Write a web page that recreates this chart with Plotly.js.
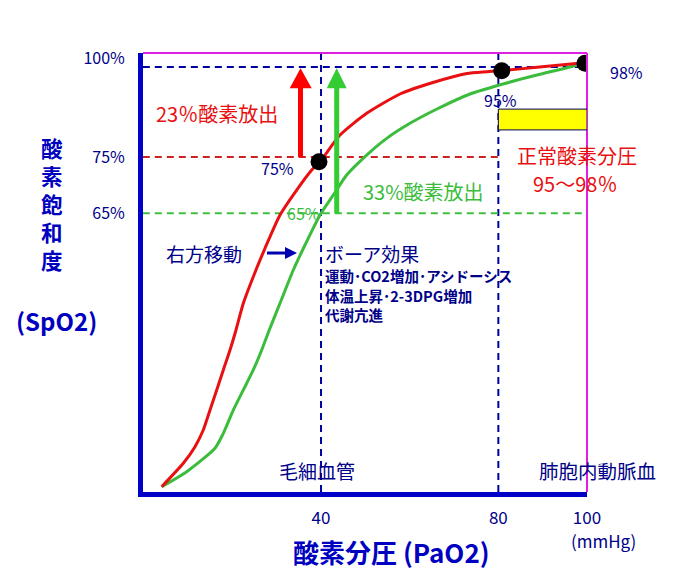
<!DOCTYPE html>
<html>
<head>
<meta charset="utf-8">
<script src="https://cdn.plot.ly/plotly-3.0.1.min.js"></script>
<style>html,body{margin:0;padding:0;background:#fff;}#chart{width:689px;height:583px;}</style>
</head>
<body>
<div id="chart"></div>
<script>
// ---- data (PaO2 mmHg, SpO2 on the drawing's own scale) ----
const pao2Normal = [4.06, 8.93, 11.57, 13.44, 14.96, 16.47, 17.96, 19.47, 20.82, 22.47, 24.72, 27.36, 30.74, 34.51, 37.9, 39.77, 44.28, 50.3, 57.82, 65.26, 72.93, 77.44, 80.83, 88.72, 99.32];
const spo2Normal = [1.25, 6.75, 10.66, 14.59, 19.29, 24.0, 28.71, 33.41, 38.12, 44.4, 50.66, 57.34, 65.18, 71.06, 75.76, 77.72, 84.0, 89.11, 93.65, 96.35, 98.47, 98.89, 99.18, 99.93, 101.01];
const pao2Shift = [4.06, 9.7, 16.08, 17.96, 20.21, 22.47, 24.72, 26.62, 28.33, 30.74, 33.75, 36.39, 39.77, 42.77, 45.79, 50.3, 54.82, 60.07, 66.16, 73.61, 81.05, 88.72, 96.16, 99.32];
const spo2Shift = [1.25, 4.78, 10.28, 13.81, 19.29, 24.0, 28.71, 33.41, 38.12, 44.4, 52.24, 58.12, 65.18, 69.88, 74.59, 79.29, 83.22, 86.75, 90.12, 93.65, 96.0, 98.12, 100.0, 100.94];
const pointX = [39.54, 80.76, 99.55];
const pointY = [77.72, 99.13, 100.87];
const xTickVals = [40, 80, 100];
const xTickText = ['40', '80', '100'];
const yTickVals = [102.1, 78.8, 65.6];
const yTickText = ['100%', '75%', '65%'];
const level100 = 100, level75 = 78.8, level65 = 65.6;
const vLines = [40, 80];
const normalBand = [80, 100, 85.2, 90.1];

// ---- layout helpers (pixel -> axis / paper units, for label and arrow placement) ----
const X0 = 143.7, KX = 4.433, Y0 = 492, KY = 4.25;
const px = p => (p - X0) / KX;
const py = p => (Y0 - p) / KY;
const PL = 143, PW = 444, PB = 492, PH = 439;
const ppx = p => (p - PL) / PW;
const ppy = p => (PB - p) / PH;
const FONT = '"Noto Sans CJK JP", "Noto Sans", sans-serif';
const NAVY = '#000088', RED = '#e81010', GREEN = '#3cbc3c', AXIS = '#0000c8', MAG = '#e020e0';

const traces = [
  {x: pao2Shift, y: spo2Shift, mode: 'lines', line: {color: GREEN, width: 3, shape: 'spline', smoothing: 0.6}, hoverinfo: 'skip'},
  {x: pao2Normal, y: spo2Normal, mode: 'lines', line: {color: RED, width: 3, shape: 'spline', smoothing: 0.6}, hoverinfo: 'skip'},
  {x: pointX, y: pointY, mode: 'markers', marker: {color: '#000', size: 17}, hoverinfo: 'skip'}
];

const dashBlue = {color: '#0000a0', width: 2, dash: '7px,5px'};
const shapes = [
  {type: 'line', xref: 'paper', yref: 'paper', x0: 0, x1: 1, y0: 1, y1: 1, line: {color: MAG, width: 2}},
  {type: 'line', xref: 'paper', yref: 'paper', x0: 1, x1: 1, y0: 0, y1: 1, line: {color: MAG, width: 2}},
  ...vLines.map(v => ({type: 'line', layer: 'below', xref: 'x', yref: 'paper', x0: v, x1: v, y0: 0, y1: 1, line: dashBlue})),
  {type: 'line', layer: 'below', xref: 'x', yref: 'y', x0: -0.2, x1: 99.1, y0: level100, y1: level100, line: dashBlue},
  {type: 'line', layer: 'below', xref: 'x', yref: 'y', x0: -0.2, x1: 80, y0: level75, y1: level75, line: {color: '#d02020', width: 2, dash: '7px,5px'}},
  {type: 'line', layer: 'below', xref: 'x', yref: 'y', x0: -0.2, x1: 99.1, y0: level65, y1: level65, line: {color: '#40c040', width: 2, dash: '7px,5px'}},
  {type: 'rect', xref: 'x', yref: 'y', x0: normalBand[0], x1: normalBand[1], y0: normalBand[2], y1: normalBand[3], fillcolor: '#ffff00', line: {color: '#000060', width: 1}},
  // red arrow
  {type: 'line', xref: 'x', yref: 'y', x0: px(300.5), x1: px(300.5), y0: level75, y1: py(87), line: {color: '#ff0000', width: 5}},
  {type: 'path', xref: 'x', yref: 'y', path: `M ${px(289.7)},${py(88.3)} L ${px(311.7)},${py(88.3)} L ${px(300.5)},${py(68.3)} Z`, fillcolor: '#ff0000', line: {width: 0}},
  // green arrow
  {type: 'line', xref: 'x', yref: 'y', x0: px(336.7), x1: px(336.7), y0: level65, y1: py(87), line: {color: '#33cc33', width: 5}},
  {type: 'path', xref: 'x', yref: 'y', path: `M ${px(326.7)},${py(88.3)} L ${px(346.7)},${py(88.3)} L ${px(336.7)},${py(68.3)} Z`, fillcolor: '#33cc33', line: {width: 0}},
  // blue arrow (right shift)
  {type: 'line', xref: 'x', yref: 'y', x0: px(267), x1: px(287), y0: py(253), y1: py(253), line: {color: '#0000b0', width: 3}},
  {type: 'path', xref: 'x', yref: 'y', path: `M ${px(285)},${py(247)} L ${px(285)},${py(259)} L ${px(297)},${py(253)} Z`, fillcolor: '#0000b0', line: {width: 0}}
];

function T(text, x, y, color, size, opts) {
  return Object.assign({text: text, x: ppx(x), y: ppy(y), xref: 'paper', yref: 'paper', showarrow: false,
    font: {family: FONT, size: size, color: color}, xanchor: 'center', yanchor: 'middle'}, opts || {});
}
const annotations = [
  T('23％酸素放出', 217, 114, RED, 20),
  T('33%酸素放出', 423, 191, GREEN, 20),
  T('75%', 277, 168, NAVY, 16),
  T('65%', 303, 213, GREEN, 16),
  T('95%', 500, 100, NAVY, 16),
  T('98%', 626, 72, NAVY, 16),
  T('正常酸素分圧', 577, 155, RED, 20),
  T('95〜98％', 575, 183, RED, 20),
  T('右方移動', 204, 253, NAVY, 19),
  T('ボーア効果', 323, 253, NAVY, 19, {xanchor: 'left'}),
  T('<b>運動･CO2増加･アシドーシス</b>', 323, 275, NAVY, 14.5, {xanchor: 'left'}),
  T('<b>体温上昇･2-3DPG増加</b>', 323, 295, NAVY, 14.5, {xanchor: 'left'}),
  T('<b>代謝亢進</b>', 323, 314, NAVY, 14.5, {xanchor: 'left'}),
  T('毛細血管', 317, 470, NAVY, 19),
  T('肺胞内動脈血', 597, 470, NAVY, 19.5),
  T('(mmHg)', 603, 540, NAVY, 17),
  T('<b>酸素分圧 (PaO2)</b>', 391, 551, '#0000c0', 26),
  T('<b>(SpO2)</b>', 56, 320, '#0000c0', 24),
  T('<b>酸<br>素<br>飽<br>和<br>度</b>', 52, 203, '#0000c0', 21.5)
];

const layout = {
  width: 689, height: 583,
  margin: {l: 143, r: 102, t: 53, b: 91},
  paper_bgcolor: '#fff', plot_bgcolor: '#fff',
  showlegend: false,
  font: {family: FONT},
  xaxis: {range: [-0.16, 100], showgrid: false, zeroline: false, showline: true, linecolor: AXIS, linewidth: 5,
    tickmode: 'array', tickvals: xTickVals, ticktext: xTickText, ticks: 'outside', ticklen: 7, tickcolor: 'rgba(0,0,0,0)',
    tickfont: {family: FONT, size: 17, color: NAVY}, fixedrange: true},
  yaxis: {range: [0, 103.3], showgrid: false, zeroline: false, showline: true, linecolor: AXIS, linewidth: 5,
    tickmode: 'array', tickvals: yTickVals, ticktext: yTickText, ticks: 'outside', ticklen: 10, tickcolor: 'rgba(0,0,0,0)',
    tickfont: {family: FONT, size: 16, color: NAVY}, fixedrange: true},
  shapes: shapes,
  annotations: annotations
};
Plotly.newPlot('chart', traces, layout, {displayModeBar: false, staticPlot: true});
</script>
</body>
</html>
